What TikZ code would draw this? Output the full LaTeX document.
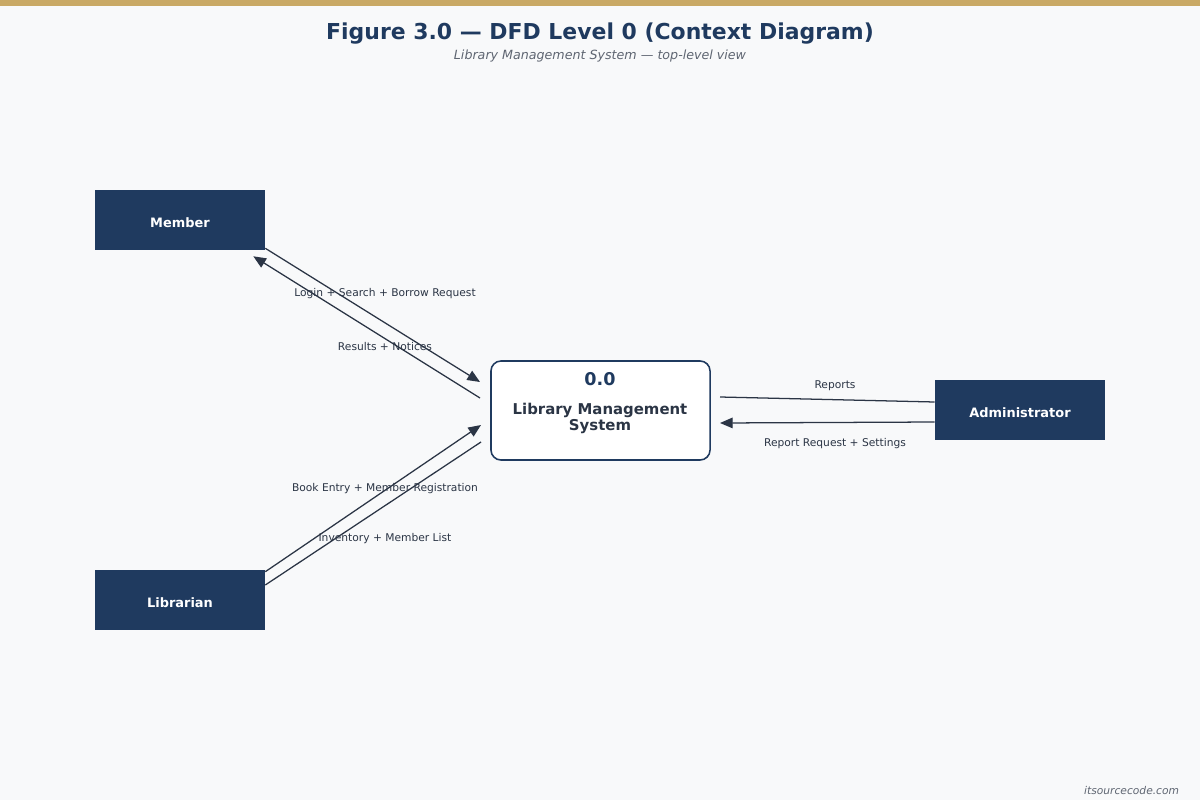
\documentclass[tikz,border=0pt]{standalone}
\usepackage{fontspec}
\setmainfont{DejaVu Sans}
\usetikzlibrary{positioning,arrows.meta,calc}

\definecolor{navy}{HTML}{1F3A5F}
\definecolor{ink}{HTML}{2B3545}
\definecolor{gold}{HTML}{C9A965}
\definecolor{paper}{HTML}{F8F9FA}
\definecolor{muted}{HTML}{5F6672}

\begin{document}
\begin{tikzpicture}[
x=0.025cm, y=-0.025cm,
entity/.style={rectangle,fill=navy,minimum width=4.25cm,minimum height=1.5cm,inner sep=0pt,text height=10.9pt,text depth=0pt,text=white,font=\fontsize{9.2}{11}\selectfont\bfseries},
process/.style={rectangle,rounded corners=0.25cm,draw=navy,line width=1.1pt,fill=white,minimum width=5.475cm,minimum height=2.475cm},
flow/.style={-{Triangle[length=9pt,width=7.5pt]},ink,line width=0.9pt},
plainflow/.style={ink,line width=0.9pt},
lbl/.style={text=ink,font=\fontsize{7.6}{9}\selectfont}
]
\useasboundingbox (0,0) rectangle (1200,800);
\fill[paper] (0,0) rectangle (1200,800);
\fill[gold] (0,0) rectangle (1200,6);

\node[text=navy,font=\fontsize{15.6}{18}\selectfont\bfseries] (title) at (600,34) {Figure 3.0 — DFD Level 0 (Context Diagram)};
\node[text=muted,font=\fontsize{9}{11}\selectfont\itshape] (subtitle) at (600,56) {Library Management System — top-level view};

% process and external entities
\node[process] (proc) at (600.5,410.5) {};
\node[text=navy,font=\fontsize{12.5}{15}\selectfont\bfseries] (procid) at (600,379.5) {0.0};
\node[text=ink,font=\fontsize{10.6}{11.4}\selectfont\bfseries,align=center] (procname) at (600,418) {Library Management\\System};

\node[entity] (member) at (180,220) {Member};
\node[entity] (librarian) at (180,600) {Librarian};
\node[entity] (admin) at (1020,410) {Administrator};

% ends beside the process
\coordinate (m1) at (480,382);
\coordinate (m2) at (480,398);
\coordinate (l1) at (481,425);
\coordinate (l2) at (481,442);
\coordinate (a1) at (720,397);
\coordinate (a2) at (720,423);

\draw[flow] ([yshift=0.05cm]member.south east) -- (m1);
\draw[flow] (m2) -- ([xshift=-0.3cm,yshift=-0.15cm]member.south east);
\draw[flow] ([yshift=-0.05cm]librarian.north east) -- (l1);
\draw[plainflow] (l2) -- ([yshift=0.375cm]librarian.east);
\draw[plainflow] (a1) -- ([yshift=0.2cm]admin.west);
\draw[flow] ([yshift=-0.3cm]admin.west) -- (a2);

\node[lbl] at (385,294) {Login + Search + Borrow Request};
\node[lbl] at (385,347) {Results + Notices};
\node[lbl] at (385,489) {Book Entry + Member Registration};
\node[lbl] at (385,539) {Inventory + Member List};
\node[lbl] at (835,386) {Reports};
\node[lbl] at (835,444) {Report Request + Settings};

\node[text=muted,font=\fontsize{7.6}{9}\selectfont\itshape,anchor=east] (credit) at (1184,791) {itsourcecode.com};
\end{tikzpicture}
\end{document}
